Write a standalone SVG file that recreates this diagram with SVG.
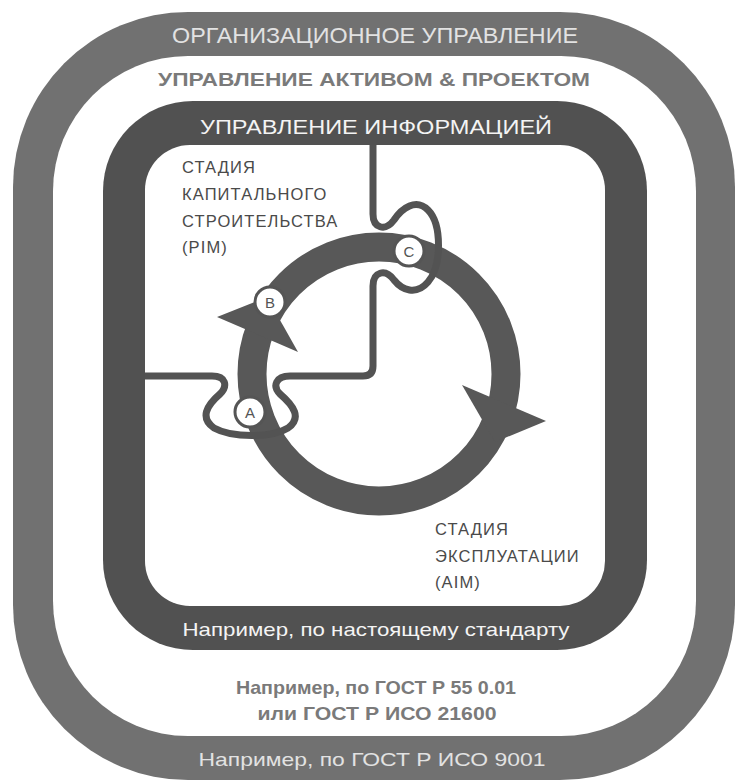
<svg xmlns="http://www.w3.org/2000/svg" width="739" height="784" viewBox="0 0 739 784">
<style>
.t{font-family:"Liberation Sans",Arial,sans-serif}
.light{fill:#e2e2e2}
.white{fill:#f4f4f4}
.grey{fill:#7a7a7a;font-weight:bold}
.stage{fill:#4a4a4a;font-size:16.5px;letter-spacing:1.1px}
.mark{fill:#ffffff;stroke:#555555;stroke-width:3}
.ml{fill:#555555;font-size:15px;text-anchor:middle}
</style>
<rect width="739" height="784" fill="#ffffff"/>
<g id="org">
<rect x="13" y="12" width="722" height="768" rx="175" fill="#717171"/>
<rect x="53" y="56" width="643" height="680" rx="135" fill="#ffffff"/>
<text class="t light" x="375" y="43" font-size="22" text-anchor="middle" textLength="406" lengthAdjust="spacingAndGlyphs">ОРГАНИЗАЦИОННОЕ УПРАВЛЕНИЕ</text>
<text class="t light" x="372" y="766" font-size="19" text-anchor="middle" textLength="347" lengthAdjust="spacingAndGlyphs">Например, по ГОСТ Р ИСО 9001</text>
</g>
<g id="asset">
<text class="t grey" x="374" y="86" font-size="19" text-anchor="middle" textLength="432" lengthAdjust="spacingAndGlyphs">УПРАВЛЕНИЕ АКТИВОМ &amp; ПРОЕКТОМ</text>
<text class="t grey" x="376" y="694" font-size="19" text-anchor="middle" textLength="280" lengthAdjust="spacingAndGlyphs">Например, по ГОСТ Р 55 0.01</text>
<text class="t grey" x="377" y="720" font-size="19" text-anchor="middle" textLength="239" lengthAdjust="spacingAndGlyphs">или ГОСТ Р ИСО 21600</text>
</g>
<g id="info">
<rect x="103" y="101" width="544" height="549" rx="90" fill="#515151"/>
<rect x="145" y="145" width="460" height="461" rx="45" fill="#ffffff"/>
<text class="t white" x="376" y="134" font-size="20" text-anchor="middle" textLength="352" lengthAdjust="spacingAndGlyphs">УПРАВЛЕНИЕ ИНФОРМАЦИЕЙ</text>
<text class="t white" x="376" y="636" font-size="19" text-anchor="middle" textLength="387" lengthAdjust="spacingAndGlyphs">Например, по настоящему стандарту</text>
</g>
<g id="pim">
<text class="t stage" x="182" y="173">СТАДИЯ</text>
<text class="t stage" x="182" y="200">КАПИТАЛЬНОГО</text>
<text class="t stage" x="182" y="227">СТРОИТЕЛЬСТВА</text>
<text class="t stage" x="182" y="253">(PIM)</text>
</g>
<g id="aim">
<text class="t stage" x="435" y="535">СТАДИЯ</text>
<text class="t stage" x="435" y="562">ЭКСПЛУАТАЦИИ</text>
<text class="t stage" x="435" y="588">(AIM)</text>
</g>
<g id="cycle">
<circle cx="379" cy="374" r="127" fill="none" stroke="#585858" stroke-width="29"/>
<polygon points="217,317 267,297 298,352" fill="#585858"/>
<polygon points="462,385 546,421 495,442" fill="#585858"/>
</g>
<g id="connectors">
<path d="M373,145 V214 C373,228 385,232 394,220 C402,208 416,198 428,210 C442,224 442,266 428,282 C416,296 402,290 394,280 C385,268 373,272 373,286 V366 Q373,376 363,376 H290 C276,376 272,386 280,394 C294,406 302,418 288,428 C272,438 232,438 214,428 C200,418 206,406 220,394 C228,386 226,376 212,376 H145" fill="none" stroke="#535353" stroke-width="7" stroke-linejoin="round"/>
</g>
<g id="markA">
<circle class="mark" cx="250" cy="412" r="15"/>
<text class="t ml" x="250" y="418">A</text>
</g>
<g id="markB">
<circle class="mark" cx="270" cy="302" r="15"/>
<text class="t ml" x="270" y="308">B</text>
</g>
<g id="markC">
<circle class="mark" cx="409" cy="251" r="15"/>
<text class="t ml" x="409" y="257">C</text>
</g>
</svg>
